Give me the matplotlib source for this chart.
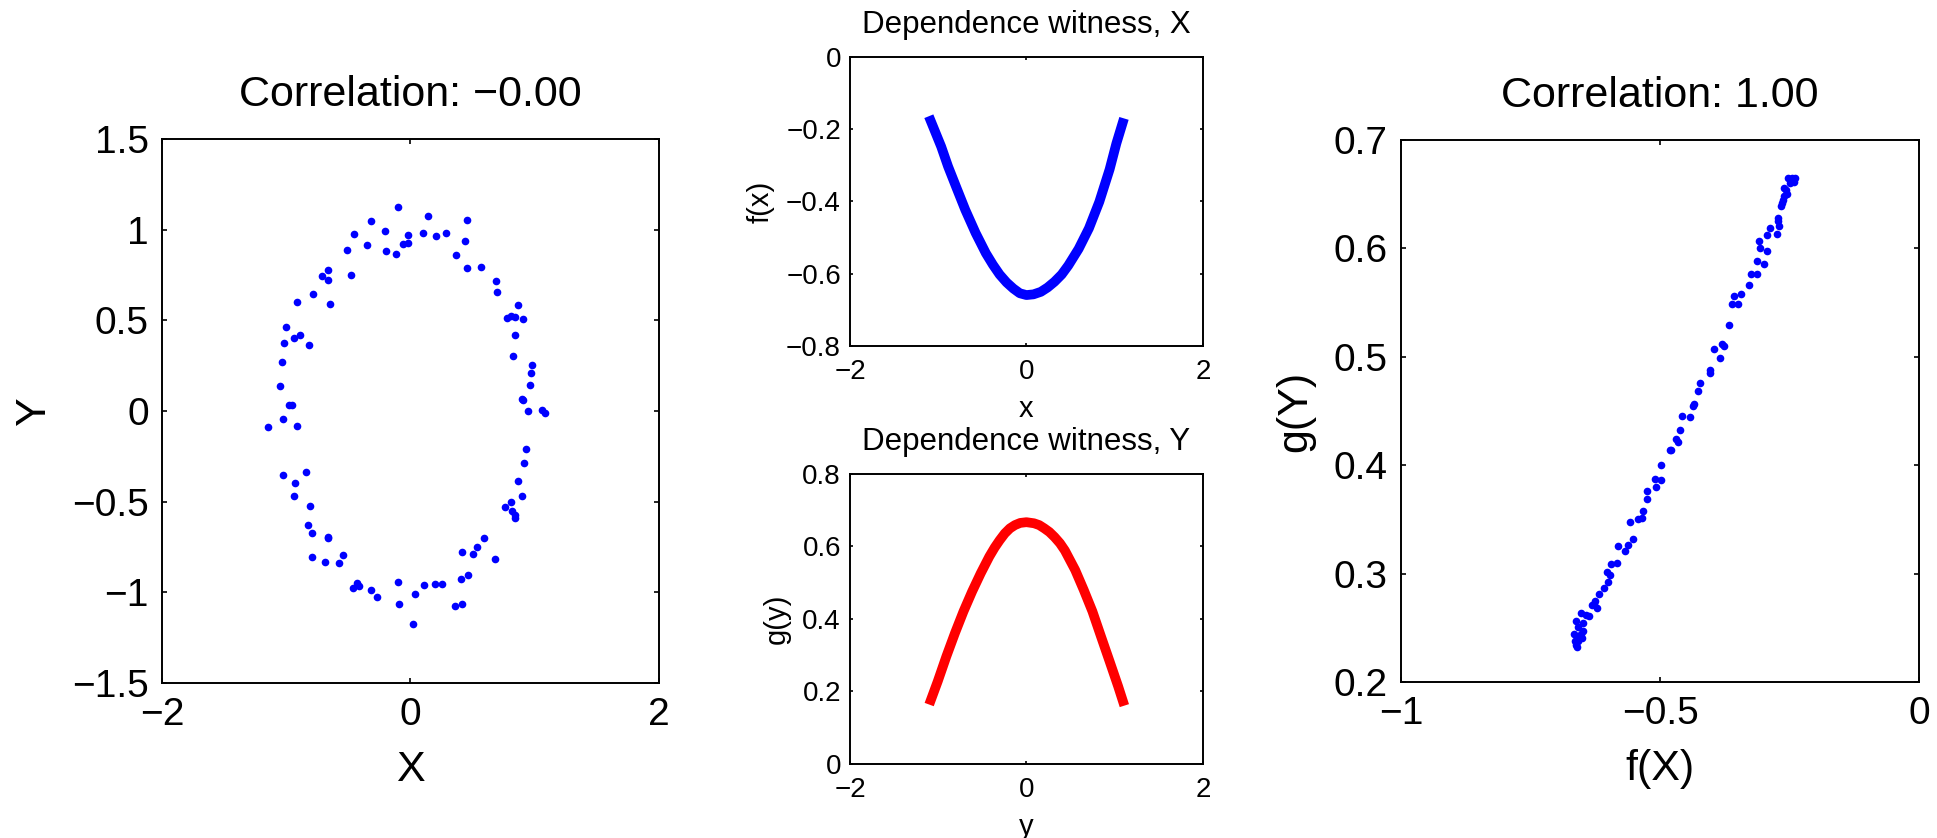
import matplotlib
matplotlib.use("Agg")
import matplotlib.pyplot as plt
import numpy as np

plt.rcParams['font.family'] = ['Liberation Sans', 'DejaVu Sans']
plt.rcParams['axes.unicode_minus'] = True

# Samples (X, Y) lying on a noisy ellipse
sample_x = [-0.100, 0.138, -0.317, 0.459, -0.202, -0.451, -0.023, 0.098, 0.205, 0.283,
            -0.352, -0.508, -0.058, -0.017, -0.197, -0.117, 0.435, 0.366, -0.660, -0.714,
            -0.660, -0.476, 0.454, 0.567, -0.786, -0.915, -0.644, 0.685, 0.693, 0.867,
            0.773, 0.813, 0.840, 0.907, -0.998, -0.934, -0.885, -1.019, -0.818, 0.840,
            -1.036, 0.829, 0.979, 0.969, -1.046, 0.963, 0.896, 0.909, -0.977, -0.955,
            -1.027, -1.148, -0.910, 0.942, 1.057, 1.084, 0.931, 0.915, -1.027, -0.843,
            -0.931, 0.864, 0.899, -0.939, -0.810, 0.762, 0.813, 0.821, 0.843, 0.843,
            -0.824, -0.794, -0.666, -0.660, 0.588, 0.534, 0.417, 0.502, 0.682, -0.789,
            -0.540, -0.685, -0.577, -0.433, -0.459, -0.411, -0.315, -0.272, -0.100, -0.090,
            0.036, 0.109, 0.197, 0.251, 0.409, 0.465, 0.355, 0.417, 0.023]
sample_y = [1.124, 1.073, 1.049, 1.055, 0.990, 0.974, 0.972, 0.984, 0.965, 0.984,
            0.913, 0.888, 0.921, 0.927, 0.880, 0.864, 0.935, 0.862, 0.778, 0.744,
            0.724, 0.750, 0.789, 0.793, 0.644, 0.602, 0.589, 0.719, 0.656, 0.583,
            0.510, 0.522, 0.516, 0.506, 0.465, 0.402, 0.419, 0.372, 0.362, 0.421,
            0.268, 0.303, 0.254, 0.209, 0.140, 0.144, 0.067, 0.059, 0.033, 0.031,
            -0.045, -0.087, -0.085, -0.002, 0.008, -0.012, -0.211, -0.289, -0.354, -0.337,
            -0.400, -0.388, -0.467, -0.470, -0.524, -0.528, -0.500, -0.553, -0.573, -0.591,
            -0.630, -0.671, -0.693, -0.703, -0.703, -0.752, -0.776, -0.791, -0.817, -0.803,
            -0.793, -0.835, -0.841, -0.949, -0.978, -0.965, -0.986, -1.024, -0.941, -1.067,
            -1.010, -0.959, -0.955, -0.955, -0.925, -0.906, -1.073, -1.063, -1.173]

# Witness function f evaluated on a grid of x
grid_fx = [-1.106, -0.966, -0.888, -0.791, -0.693, -0.576, -0.460, -0.380, -0.304, -0.225,
           -0.148, -0.075, 0.000, 0.080, 0.164, 0.240, 0.319, 0.400, 0.475, 0.592,
           0.709, 0.826, 0.943, 1.020, 1.106]
witness_f = [-0.164, -0.248, -0.303, -0.363, -0.423, -0.487, -0.543, -0.575, -0.602, -0.624,
             -0.641, -0.654, -0.659, -0.657, -0.650, -0.638, -0.622, -0.602, -0.577, -0.531,
             -0.474, -0.401, -0.311, -0.239, -0.170]

# Witness function g evaluated on a grid of y
grid_gy = [-1.102, -1.005, -0.907, -0.810, -0.713, -0.615, -0.518, -0.421, -0.360, -0.304,
           -0.245, -0.187, -0.130, -0.070, 0.000, 0.086, 0.145, 0.203, 0.260, 0.319,
           0.380, 0.436, 0.553, 0.650, 0.748, 0.845, 0.943, 1.040, 1.110]
witness_g = [0.164, 0.228, 0.297, 0.361, 0.421, 0.476, 0.526, 0.572, 0.597, 0.617,
             0.636, 0.650, 0.659, 0.665, 0.667, 0.664, 0.659, 0.650, 0.640, 0.626,
             0.609, 0.589, 0.535, 0.480, 0.421, 0.352, 0.283, 0.214, 0.161]

# Transformed samples (f(X), g(Y))
fX = [-0.253, -0.245, -0.239, -0.242, -0.249, -0.260, -0.256, -0.254, -0.260, -0.263,
      -0.265, -0.267, -0.273, -0.272, -0.270, -0.287, -0.293, -0.275, -0.308, -0.306,
      -0.293, -0.313, -0.299, -0.325, -0.313, -0.328, -0.344, -0.357, -0.361, -0.349,
      -0.366, -0.396, -0.380, -0.376, -0.385, -0.404, -0.404, -0.422, -0.427, -0.437,
      -0.434, -0.458, -0.442, -0.462, -0.469, -0.466, -0.478, -0.481, -0.498, -0.509,
      -0.498, -0.508, -0.525, -0.525, -0.533, -0.534, -0.543, -0.557, -0.552, -0.562,
      -0.567, -0.581, -0.584, -0.595, -0.602, -0.596, -0.600, -0.609, -0.617, -0.625,
      -0.628, -0.622, -0.632, -0.637, -0.642, -0.652, -0.649, -0.663, -0.658, -0.648,
      -0.653, -0.666, -0.661, -0.650, -0.658, -0.665, -0.660, -0.663]
gY = [0.665, 0.665, 0.665, 0.661, 0.660, 0.656, 0.654, 0.650, 0.648, 0.645,
      0.642, 0.639, 0.628, 0.625, 0.621, 0.619, 0.612, 0.613, 0.607, 0.600,
      0.598, 0.588, 0.586, 0.576, 0.576, 0.566, 0.558, 0.556, 0.549, 0.549,
      0.529, 0.507, 0.512, 0.510, 0.499, 0.488, 0.485, 0.476, 0.468, 0.455,
      0.456, 0.445, 0.444, 0.432, 0.424, 0.421, 0.414, 0.414, 0.400, 0.387,
      0.386, 0.380, 0.376, 0.369, 0.358, 0.351, 0.350, 0.348, 0.332, 0.326,
      0.321, 0.325, 0.310, 0.309, 0.301, 0.299, 0.292, 0.287, 0.281, 0.275,
      0.272, 0.268, 0.271, 0.261, 0.262, 0.264, 0.254, 0.256, 0.251, 0.247,
      0.244, 0.244, 0.241, 0.241, 0.238, 0.238, 0.232, 0.234]

corr_before = -0.0
corr_after = 1.00

MINUS = "\u2212"


def fmt_corr(c):
    return ("%.2f" % c).replace("-", MINUS)


def tick_text(values):
    return [("%g" % v).replace("-", MINUS) for v in values]


def style_axes(ax, tick_pt, xpad, ypad, tick_len):
    for s in ax.spines.values():
        s.set_linewidth(1.4)
    ax.tick_params(direction='in', top=True, right=True, labelsize=tick_pt,
                   length=tick_len, width=1.2)
    ax.tick_params(axis='x', pad=xpad)
    ax.tick_params(axis='y', pad=ypad)


def set_ticks(ax, xt, yt):
    ax.set_xticks(xt)
    ax.set_xticklabels(tick_text(xt))
    ax.set_yticks(yt)
    ax.set_yticklabels(tick_text(yt))


fig = plt.figure(figsize=(19.37, 8.38), dpi=100)

# Left: raw samples
ax1 = fig.add_axes([0.0836, 0.1850, 0.2566, 0.6492])
ax1.plot(sample_x, sample_y, 'o', color=(0, 0, 1), markersize=5.5, markeredgewidth=0)
ax1.set_xlim(-2, 2)
ax1.set_ylim(-1.5, 1.5)
set_ticks(ax1, [-2, 0, 2], [-1.5, -1, -0.5, 0, 0.5, 1, 1.5])
style_axes(ax1, 28, 10, 9.5, 3.6)
ax1.set_title('Correlation: ' + fmt_corr(corr_before), fontsize=31, pad=24)
ax1.set_xlabel('X', fontsize=31, labelpad=12)
ax1.set_ylabel('Y', fontsize=31, labelpad=13)

# Middle top: witness f
ax2 = fig.add_axes([0.4388, 0.5871, 0.1822, 0.3449])
ax2.plot(grid_fx, witness_f, '-', color=(0, 0, 1), linewidth=7,
         solid_capstyle='butt', solid_joinstyle='round')
ax2.set_xlim(-2, 2)
ax2.set_ylim(-0.8, 0)
set_ticks(ax2, [-2, 0, 2], [-0.8, -0.6, -0.4, -0.2, 0])
style_axes(ax2, 20, 9.5, 6.5, 2.3)
ax2.set_title('Dependence witness, X', fontsize=22.5, pad=17.5)
ax2.set_xlabel('x', fontsize=21, labelpad=7)
ax2.set_ylabel('f(x)', fontsize=21, labelpad=8)

# Middle bottom: witness g
ax3 = fig.add_axes([0.4388, 0.0883, 0.1822, 0.3461])
ax3.plot(grid_gy, witness_g, '-', color=(1, 0, 0), linewidth=7,
         solid_capstyle='butt', solid_joinstyle='round')
ax3.set_xlim(-2, 2)
ax3.set_ylim(0, 0.8)
set_ticks(ax3, [-2, 0, 2], [0, 0.2, 0.4, 0.6, 0.8])
style_axes(ax3, 20, 9.5, 6.5, 2.3)
ax3.set_title('Dependence witness, Y', fontsize=22.5, pad=17.5)
ax3.set_xlabel('y', fontsize=21, labelpad=7)
ax3.set_ylabel('g(y)', fontsize=21, labelpad=8)

# Right: transformed samples
ax4 = fig.add_axes([0.7233, 0.1862, 0.2674, 0.6468])
ax4.plot(fX, gY, 'o', color=(0, 0, 1), markersize=5.5, markeredgewidth=0)
ax4.set_xlim(-1, 0)
ax4.set_ylim(0.2, 0.7)
set_ticks(ax4, [-1, -0.5, 0], [0.2, 0.3, 0.4, 0.5, 0.6, 0.7])
style_axes(ax4, 28, 10, 9.5, 3.6)
ax4.set_title('Correlation: ' + fmt_corr(corr_after), fontsize=31, pad=24)
ax4.set_xlabel('f(X)', fontsize=31, labelpad=12)
ax4.set_ylabel('g(Y)', fontsize=31, labelpad=13)

fig.savefig('out.png', dpi=100)
